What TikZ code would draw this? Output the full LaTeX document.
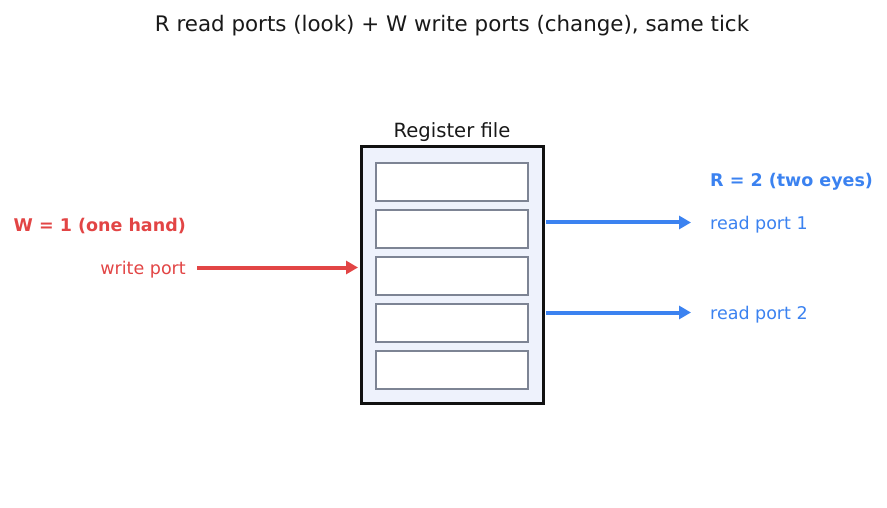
\documentclass[tikz,border=0pt]{standalone}
\usepackage{fontspec}
\setmainfont{DejaVu Sans}
\usetikzlibrary{arrows.meta}
\definecolor{wred}{HTML}{E24545}
\definecolor{rblue}{HTML}{3B82F0}
\definecolor{rffill}{HTML}{EEF2FC}
\definecolor{reggray}{HTML}{7D8494}
\definecolor{rfborder}{HTML}{111111}
\tikzset{
  rfbox/.style={draw=rfborder, line width=3pt, fill=rffill},
  regbox/.style={draw=reggray, line width=1.6pt, fill=white, minimum width=152pt, minimum height=38pt, inner sep=0pt},
  lbl/.style={font=\fontsize{17.5}{21}\selectfont, inner sep=0pt},
  wline/.style={draw=wred, line width=4pt, -{Triangle[length=12pt,width=13pt]}},
  rline/.style={draw=rblue, line width=4pt, -{Triangle[length=12pt,width=13pt]}}
}
\begin{document}
\begin{tikzpicture}[x=1pt,y=-1pt]
\useasboundingbox (0,0) rectangle (887,508);
\node[font=\fontsize{21.4}{26}\selectfont, text=black!90, inner sep=0pt] (title) at (452,25.5) {R read ports (look) + W write ports (change), same tick};
\node[rfbox, minimum width=182pt, minimum height=256pt, inner sep=0pt] (rf) at (452,275) {};
\node[font=\fontsize{19.6}{24}\selectfont, inner sep=0pt, text=black!90] (rflabel) at (452,132.5) {Register file};
\node[regbox] (r1) at (452,182) {};
\node[regbox] (r2) at (452,229) {};
\node[regbox] (r3) at (452,276) {};
\node[regbox] (r4) at (452,323) {};
\node[regbox] (r5) at (452,370) {};
\node[lbl, text=wred, font=\bfseries\fontsize{17.5}{21}\selectfont, anchor=east] (wt) at (186,226) {W = 1 (one hand)};
\node[lbl, text=wred, anchor=east] (wp) at (186,269.5) {write port};
\coordinate (wpin) at (358,267.5);
\draw[wline] (197,267.5) -- (wpin);
\node[lbl, text=rblue, font=\bfseries\fontsize{17.5}{21}\selectfont, anchor=west] (rt) at (710,181.5) {R = 2 (two eyes)};
\node[lbl, text=rblue, anchor=west] (rp1) at (710,224.5) {read port 1};
\node[lbl, text=rblue, anchor=west] (rp2) at (710,314.5) {read port 2};
\coordinate (o1) at (546,222.5);
\coordinate (o2) at (546,312.5);
\coordinate (e1) at (691,222.5);
\coordinate (e2) at (691,312.5);
\draw[rline] (o1) -- (e1);
\draw[rline] (o2) -- (e2);
\end{tikzpicture}
\end{document}
